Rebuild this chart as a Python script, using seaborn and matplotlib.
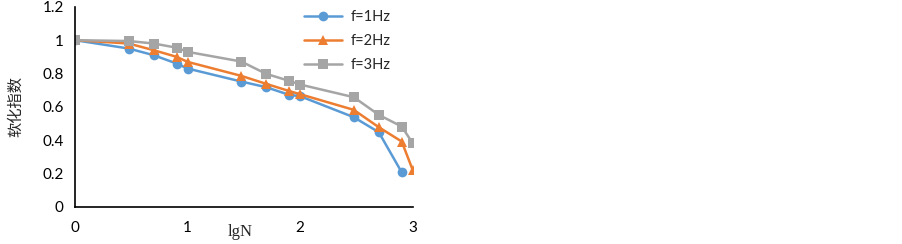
import numpy as np
import pandas as pd
import matplotlib
matplotlib.use("Agg")
import matplotlib.pyplot as plt
import seaborn as sns

# lgN positions (N = 1, 3, 5, 8, 10, 30, 50, 80, 100, 300, 500, 800, 1000)
lgn = [0, 0.477, 0.699, 0.903, 1, 1.477, 1.699, 1.903, 2, 2.477, 2.699, 2.903, 3]

f1 = [1.0, 0.95, 0.91, 0.86, 0.83, 0.752, 0.718, 0.672, 0.664, 0.538, 0.448, 0.207]
f2 = [1.0, 0.98, 0.94, 0.90, 0.87, 0.786, 0.738, 0.695, 0.676, 0.582, 0.478, 0.392, 0.222]
f3 = [1.0, 0.995, 0.98, 0.955, 0.93, 0.872, 0.798, 0.756, 0.734, 0.658, 0.552, 0.482, 0.382]

labels = ["f=1Hz", "f=2Hz", "f=3Hz"]
colors = ["#5B9BD5", "#ED7D31", "#A5A5A5"]
markers = ["o", "^", "s"]

df = pd.concat([
    pd.DataFrame({"lgN": lgn[:len(v)], "k": v, "f": lab})
    for v, lab in zip([f1, f2, f3], labels)
])

sns.set_style("white")
plt.rcParams["font.family"] = ["Lato", "DejaVu Sans"]

fig = plt.figure(figsize=(9.03, 2.44), dpi=100)
ax = fig.add_axes([0.083, 0.152, 0.374, 0.82])

sns.lineplot(data=df, x="lgN", y="k", hue="f", style="f",
             palette=colors, markers=markers, dashes=False,
             markersize=7, linewidth=1.8, markeredgewidth=0, ax=ax)

ax.set_xlim(0, 3)
ax.set_ylim(0, 1.2)
ax.set_xticks([0, 1, 2, 3])
ax.set_xticklabels(["0", "1", "2", "3"])
ax.set_yticks([0, 0.2, 0.4, 0.6, 0.8, 1.0, 1.2])
ax.set_yticklabels(["0", "0.2", "0.4", "0.6", "0.8", "1", "1.2"])
ax.tick_params(axis="both", direction="in", length=5, width=1, labelsize=11,
               colors="black", pad=8)
ax.tick_params(axis="x", pad=10)
for s in ["top", "right"]:
    ax.spines[s].set_visible(False)
for s in ["left", "bottom"]:
    ax.spines[s].set_color("black")
    ax.spines[s].set_linewidth(1.2)

ax.set_xlabel("lgN", family="Liberation Serif", fontsize=12)
ax.xaxis.set_label_coords(0.49, -0.085)
ax.set_ylabel("软化指数", family=["Noto Sans CJK SC", "DejaVu Sans"], fontsize=11)
ax.yaxis.set_label_coords(-0.15, 0.5)

leg = ax.legend(loc="upper left", bbox_to_anchor=(0.64, 1.05), frameon=False,
                fontsize=10.5, handlelength=2.6, handletextpad=0.6,
                labelspacing=0.7, title=None)
for h in leg.legend_handles:
    h.set_markeredgewidth(0)

fig.savefig("out.png", dpi=100)
